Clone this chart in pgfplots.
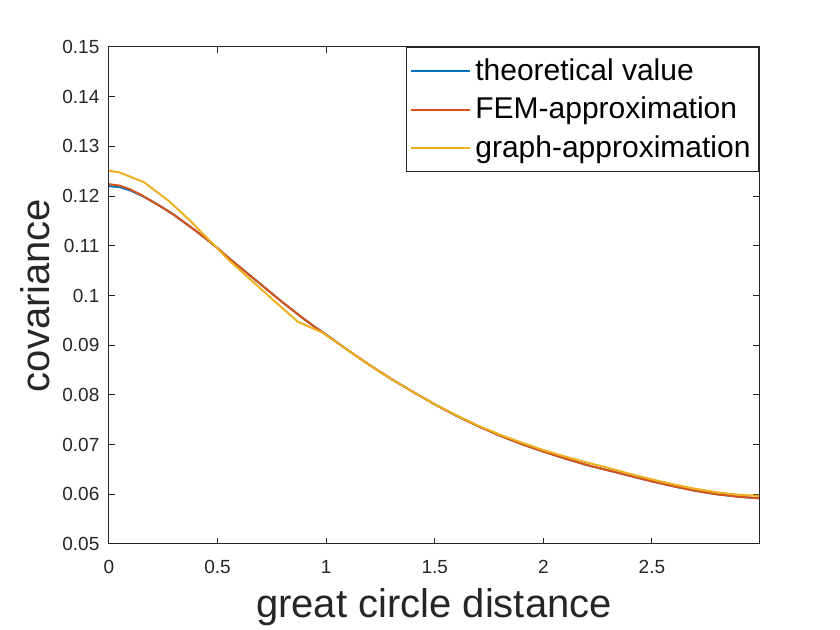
\documentclass[border=0pt]{standalone}
\usepackage{pgfplots}
\pgfplotsset{compat=1.18}
\usepackage{fontspec}
\setmainfont{Liberation Sans}
\definecolor{mblue}{rgb}{0,0.447,0.741}
\definecolor{morange}{rgb}{0.850,0.325,0.098}
\definecolor{myellow}{rgb}{0.929,0.694,0.125}
\definecolor{axgray}{rgb}{0.15,0.15,0.15}
\begin{document}
\begin{tikzpicture}
\path[use as bounding box] (-54.5pt,-43pt) rectangle (365.5pt,272pt);
\begin{axis}[
  at={(0,0)}, anchor=south west,
  scale only axis, width=325pt, height=248.5pt,
  xmin=0, xmax=2.993, ymin=0.05, ymax=0.15,
  xtick={0,0.5,1,1.5,2,2.5},
  ytick={0.05,0.06,0.07,0.08,0.09,0.1,0.11,0.12,0.13,0.14,0.15},
  scaled y ticks=false, scaled x ticks=false,
  /pgf/number format/assume math mode=true,
  /pgf/number format/fixed,
  /pgf/number format/precision=2,
  tick align=inside, major tick length=3pt,
  axis line style={axgray, line width=0.5pt},
  every tick/.style={axgray, line width=0.5pt},
  tick label style={font=\fontsize{9.5}{11}\selectfont, text=axgray},
  xticklabel style={yshift=-4.8pt},
  yticklabel style={xshift=-1.3pt},
  xlabel={great circle distance},
  ylabel={covariance},
  label style={font=\fontsize{20}{24}\selectfont, text=axgray},
  xlabel style={at={(axis description cs:0.5,-0.1268)}, anchor=center},
  ylabel style={at={(axis description cs:-0.1138,0.5)}, anchor=center, rotate=0},
  legend cell align=left,
  legend style={at={(1,1)}, anchor=north east, draw=axgray, line width=0.5pt,
    font=\fontsize{15}{18}\selectfont, inner xsep=2pt, inner ysep=3.5pt,
    row sep=3pt},
  legend image code/.code={\draw[#1] (0.8pt,0pt) -- (30.3pt,0pt);},
]
\addplot[mblue, line width=1pt] coordinates {
(0.00,0.1220) (0.05,0.1218) (0.10,0.1211) (0.15,0.1201) (0.20,0.1189)
(0.25,0.1176) (0.30,0.1162) (0.35,0.1146) (0.40,0.1130) (0.45,0.1113)
(0.50,0.1095) (0.55,0.1076) (0.60,0.1058) (0.65,0.1040) (0.70,0.1022)
(0.75,0.1004) (0.80,0.0986) (0.85,0.0969) (0.90,0.0952) (0.95,0.0936)
(1.00,0.0921) (1.10,0.0890) (1.20,0.0860) (1.30,0.0832) (1.40,0.0806)
(1.50,0.0781) (1.60,0.0758) (1.70,0.0737) (1.80,0.0718) (1.90,0.0701)
(2.00,0.0686) (2.10,0.0672) (2.20,0.0659) (2.30,0.0648) (2.40,0.0637)
(2.50,0.0626) (2.60,0.0616) (2.70,0.0607) (2.80,0.0600) (2.90,0.0595)
(2.993,0.0592)
};
\addlegendentry{theoretical value}
\addplot[morange, line width=1pt] coordinates {
(0.00,0.1224) (0.05,0.1221) (0.10,0.1213) (0.15,0.1202) (0.20,0.1189)
(0.25,0.1176) (0.30,0.1162) (0.35,0.1146) (0.40,0.1130) (0.45,0.1113)
(0.50,0.1095) (0.55,0.1076) (0.60,0.1058) (0.65,0.1040) (0.70,0.1022)
(0.75,0.1004) (0.80,0.0986) (0.85,0.0969) (0.90,0.0952) (0.95,0.0936)
(1.00,0.0921) (1.10,0.0890) (1.20,0.0860) (1.30,0.0832) (1.40,0.0806)
(1.50,0.0781) (1.60,0.0758) (1.70,0.0737) (1.80,0.0718) (1.90,0.0701)
(2.00,0.0686) (2.10,0.0672) (2.20,0.0659) (2.30,0.0648) (2.40,0.0637)
(2.50,0.0626) (2.60,0.0616) (2.70,0.0607) (2.80,0.0600) (2.90,0.0595)
(2.993,0.0592)
};
\addlegendentry{FEM-approximation}
\addplot[myellow, line width=1pt] coordinates {
(0.000,0.1251) (0.046,0.1248) (0.161,0.1228) (0.276,0.1190) (0.368,0.1153)
(0.460,0.1112) (0.550,0.1072) (0.649,0.1033) (0.756,0.0991) (0.870,0.0947)
(0.980,0.0926) (1.10,0.0890) (1.20,0.0860) (1.30,0.0832) (1.40,0.0806)
(1.50,0.0781) (1.60,0.0759) (1.70,0.0738) (1.80,0.0720) (1.90,0.0704)
(2.00,0.0689) (2.10,0.0676) (2.20,0.0664) (2.30,0.0653) (2.40,0.0641)
(2.50,0.0630) (2.60,0.0620) (2.70,0.0611) (2.80,0.0604) (2.90,0.0599)
(2.993,0.0597)
};
\addlegendentry{graph-approximation}
\end{axis}
\end{tikzpicture}
\end{document}
